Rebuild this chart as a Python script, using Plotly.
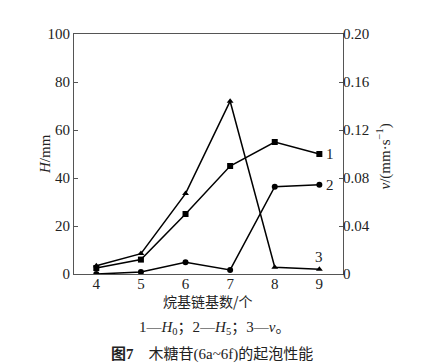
import plotly.graph_objects as go

x_vals = [4, 5, 6, 7, 8, 9]
h0 = [2.5, 6, 25, 45, 55, 50]
h5 = [0, 0.8, 4.9, 1.7, 36.4, 37.2]
v = [0.0068, 0.017, 0.067, 0.144, 0.0056, 0.004]
left_ticks = [0, 20, 40, 60, 80, 100]
right_ticks = [0, 0.04, 0.08, 0.12, 0.16, 0.20]
right_tick_text = ["0", "0.04", "0.08", "0.12", "0.16", "0.20"]

FONT = "Liberation Serif, Noto Sans CJK SC, serif"
TXT = "#222222"
AXC = "#555555"

# page body has an 8px margin; plot area in window: x 74..343, y 34..274
W, H = 429, 355
L, T = 66, 26
PW, PH = 269, 240
R = W - L - PW
B = H - T - PH


def px(X):
    return (X - 74) / PW


def py(Y):
    return (274 - Y) / PH


fig = go.Figure()
line = dict(color="black", width=1.5)
fig.add_trace(go.Scatter(x=x_vals, y=h0, mode="lines+markers", line=line,
                         marker=dict(symbol="square", size=6, color="black"), yaxis="y"))
fig.add_trace(go.Scatter(x=x_vals, y=h5, mode="lines+markers", line=line,
                         marker=dict(symbol="circle", size=6, color="black"), yaxis="y"))
fig.add_trace(go.Scatter(x=x_vals, y=v, mode="lines+markers", line=line,
                         marker=dict(symbol="triangle-up", size=6, color="black"), yaxis="y2"))

fig.update_layout(
    width=W, height=H,
    margin=dict(l=L, r=R, t=T, b=B),
    paper_bgcolor="white", plot_bgcolor="white",
    showlegend=False,
    font=dict(family=FONT, size=15, color=TXT),
    xaxis=dict(range=[3.5, 9.53], tickvals=x_vals, showgrid=False, zeroline=False,
               showline=True, linecolor=AXC, linewidth=1.2, mirror=True,
               ticks="", ticklabelstandoff=-4,
               tickfont=dict(family=FONT, size=15, color=TXT)),
    yaxis=dict(range=[0, 100], tickvals=left_ticks, showgrid=False, zeroline=False,
               showline=True, linecolor=AXC, linewidth=1.2,
               ticks="inside", ticklen=4, tickcolor=AXC,
               tickfont=dict(family=FONT, size=15, color=TXT)),
    yaxis2=dict(range=[0, 0.20], tickvals=right_ticks, ticktext=right_tick_text,
                overlaying="y", side="right", showgrid=False, zeroline=False,
                showline=True, linecolor=AXC, linewidth=1.2,
                ticks="inside", ticklen=4, tickcolor=AXC, ticklabelstandoff=-4,
                tickfont=dict(family=FONT, size=15, color=TXT)),
)

f15 = dict(family=FONT, size=15, color=TXT)
fig.add_annotation(text="<i>H</i>/mm", xref="paper", yref="paper", x=px(35), y=py(154),
                   textangle=-90, showarrow=False, font=f15)
fig.add_annotation(text="<i>v</i>/(mm·s<sup>−1</sup>)", xref="paper", yref="paper",
                   x=px(395), y=py(157), textangle=-90, showarrow=False, font=f15)
# series labels
fig.add_annotation(text="1", x=9, y=h0[-1], xref="x", yref="y", xshift=5, xanchor="left",
                   showarrow=False, font=f15)
fig.add_annotation(text="2", x=9, y=h5[-1], xref="x", yref="y", xshift=5, xanchor="left",
                   showarrow=False, font=f15)
fig.add_annotation(text="3", x=9, y=v[-1], xref="x", yref="y2", yshift=12,
                   showarrow=False, font=f15)
# x title
fig.add_annotation(text="烷基链基数/个", xref="paper", yref="paper", x=px(208), y=py(301),
                   yanchor="middle", showarrow=False,
                   font=dict(family="Noto Sans CJK SC", size=14, color=TXT))
# legend line
fig.add_annotation(text="1—<i>H</i><sub>0</sub>；2—<i>H</i><sub>5</sub>；3—<i>v</i>。",
                   xref="paper", yref="paper", x=px(214), y=py(328), yanchor="middle",
                   showarrow=False, font=dict(family=FONT, size=15, color=TXT))
# caption
fig.add_annotation(text="<b>图7</b>　木糖苷(6a~6f)的起泡性能",
                   xref="paper", yref="paper", x=px(212), y=py(354), yanchor="middle",
                   showarrow=False, font=dict(family=FONT, size=15, color=TXT))

fig.write_html("out.html")
